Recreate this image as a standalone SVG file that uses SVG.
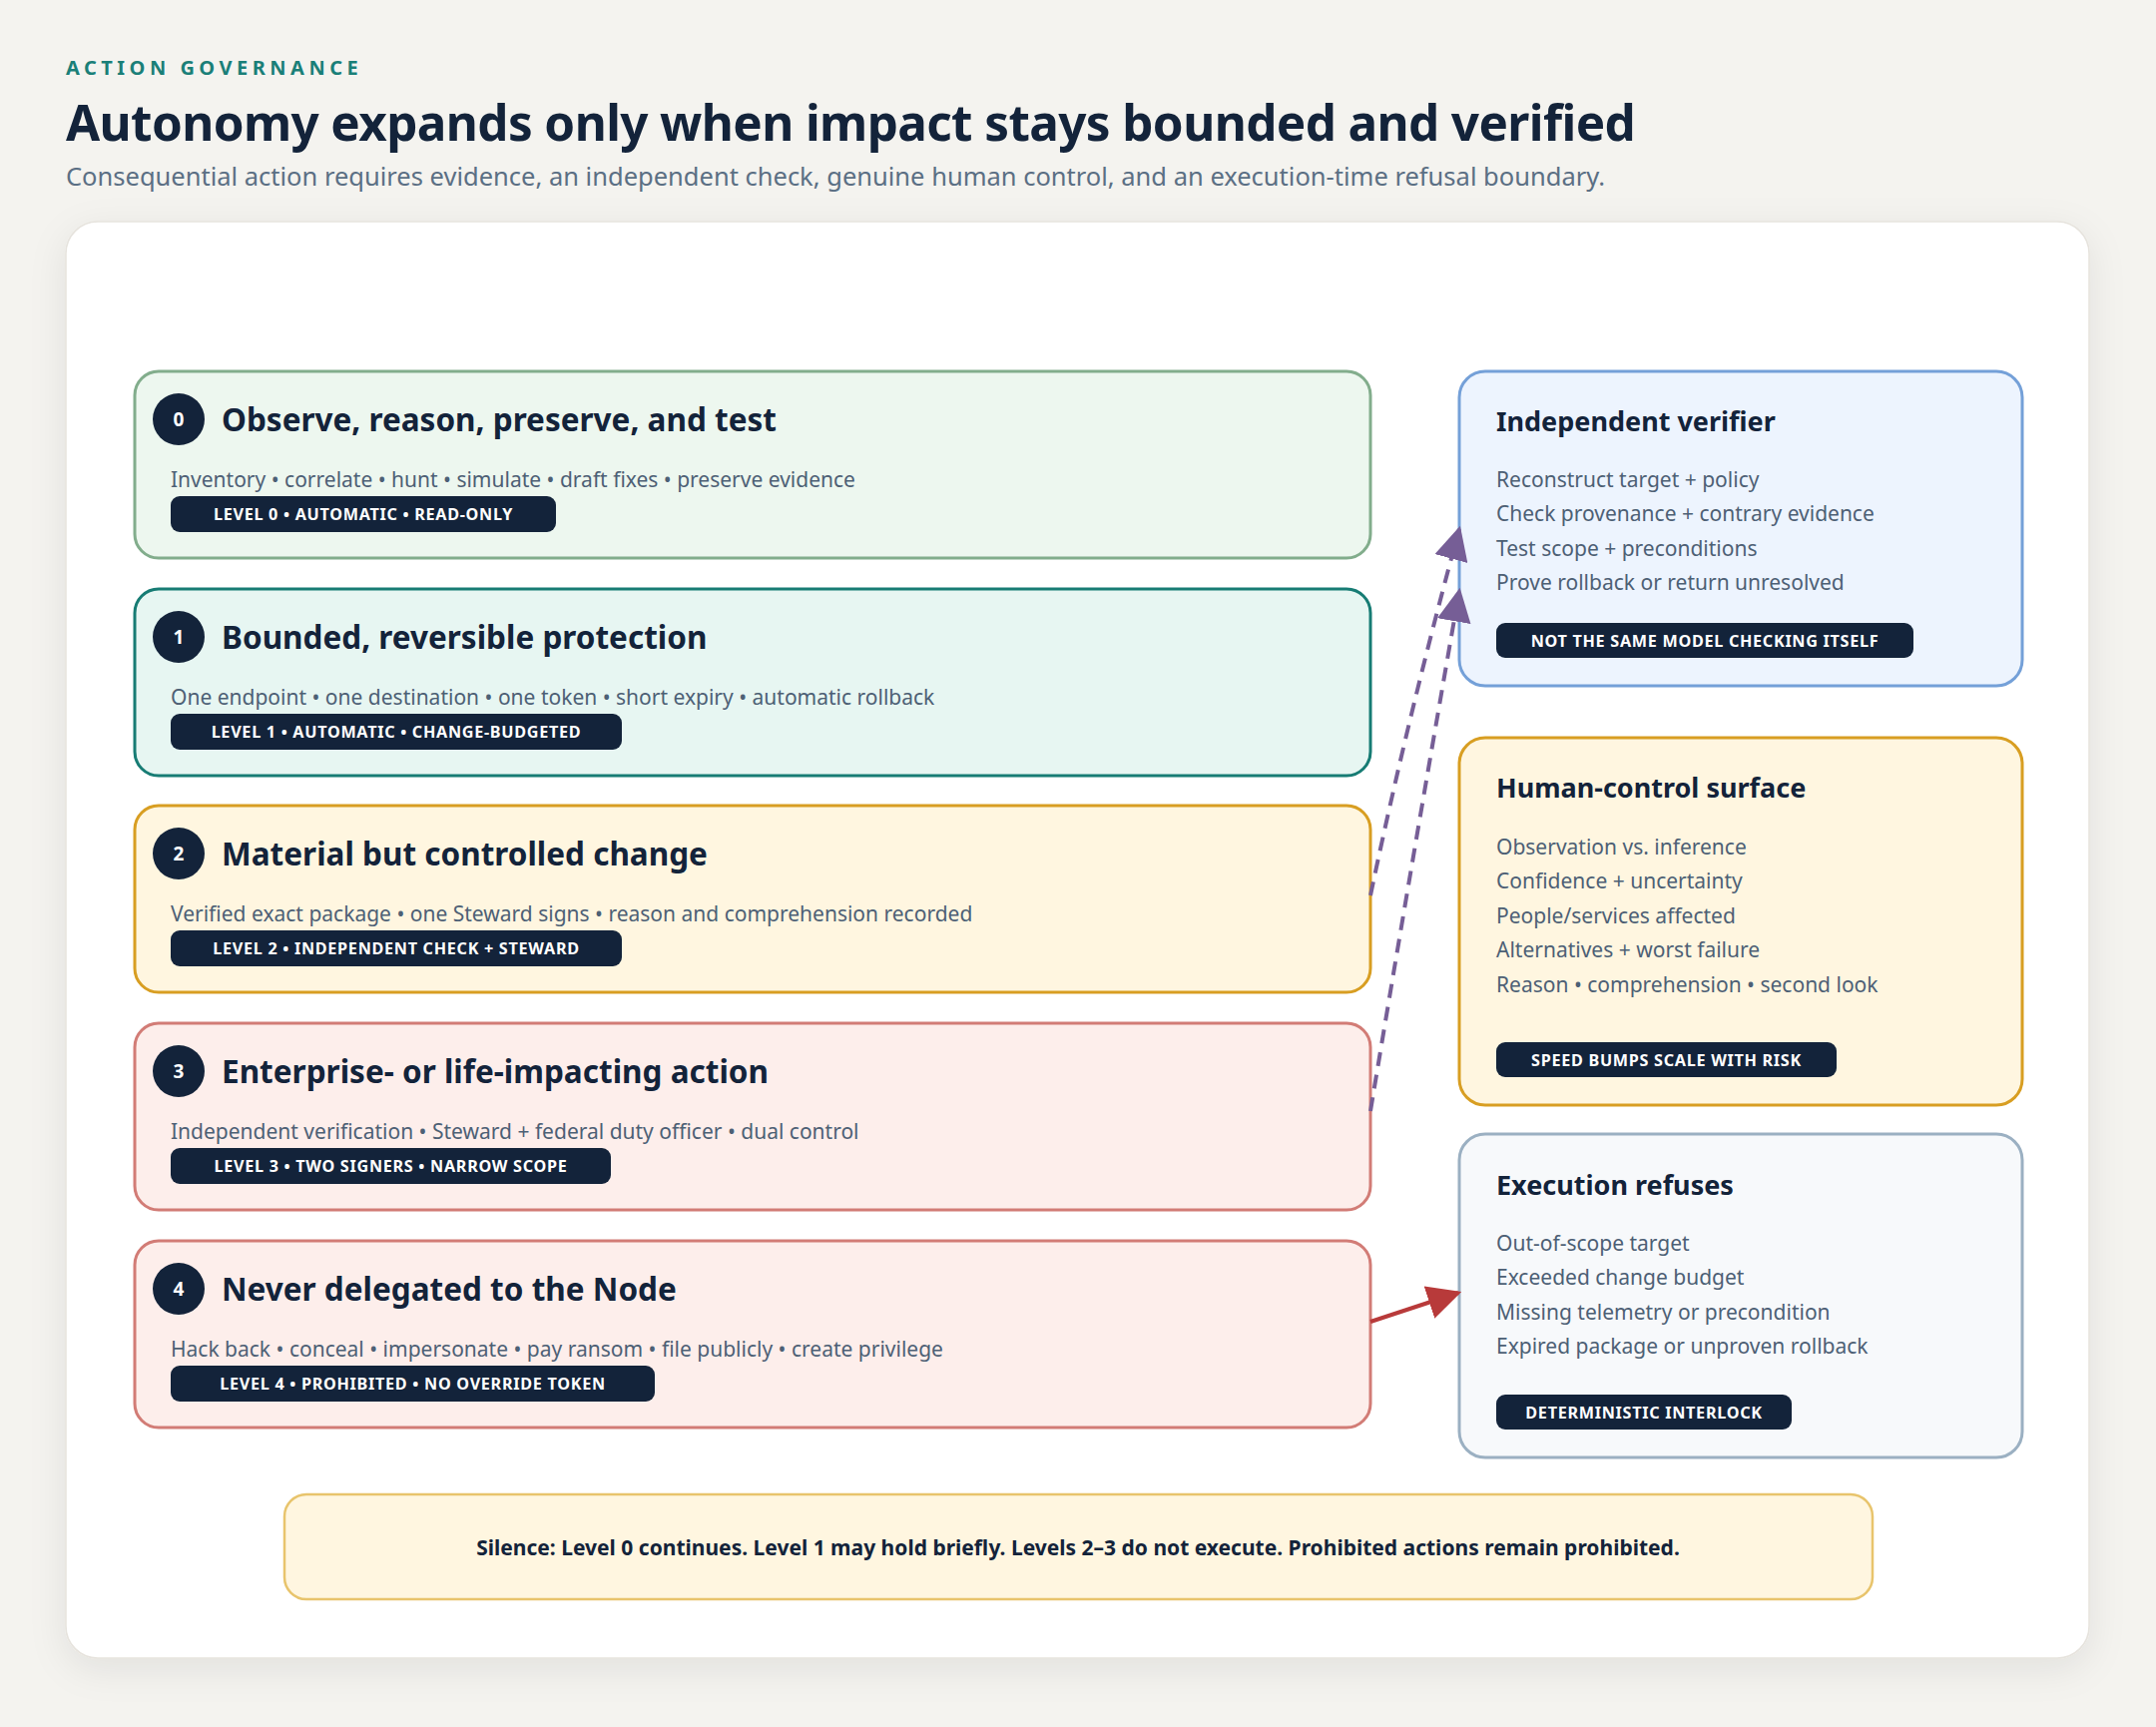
<svg xmlns="http://www.w3.org/2000/svg" width="2160" height="1730" viewBox="0 0 2160 1730">
<defs>
<filter id="shadow" x="-5%" y="-5%" width="110%" height="110%">
<feDropShadow dx="0" dy="10" stdDeviation="18" flood-color="#2a2a20" flood-opacity="0.08"/>
</filter>
<marker id="arrowPurple" viewBox="0 0 10 10" refX="9" refY="5" markerWidth="8.5" markerHeight="8.5" markerUnits="strokeWidth" orient="auto">
<path d="M0,0 L10,5 L0,10 Z" fill="#765e96"/>
</marker>
<marker id="arrowRed" viewBox="0 0 10 10" refX="9" refY="5" markerWidth="8.5" markerHeight="8.5" markerUnits="strokeWidth" orient="auto">
<path d="M0,0 L10,5 L0,10 Z" fill="#b83a3a"/>
</marker>
</defs>
<style>
text { font-family: "Noto Sans", "Open Sans", sans-serif; }
.eyebrow { font-size: 20px; font-weight: 700; fill: #1a7f78; letter-spacing: 4.5px; }
.title { font-size: 49.4px; font-weight: 700; fill: #13233a; letter-spacing: -0.6px; }
.subtitle { font-size: 25.5px; fill: #5b6f84; }
.lvl-title { font-size: 31.5px; font-weight: 700; fill: #13233a; }
.desc { font-size: 21px; fill: #4d6075; }
.num { font-size: 19px; font-weight: 700; fill: #ffffff; text-anchor: middle; }
.badge { fill: #13233a; }
.badge-text { font-size: 16.2px; font-weight: 700; fill: #ffffff; text-anchor: middle; letter-spacing: 0.7px; }
.panel-title { font-size: 27px; font-weight: 700; fill: #13233a; }
.panel-line { font-size: 21px; fill: #4d6075; }
.note { font-size: 21px; font-weight: 700; fill: #13233a; text-anchor: middle; }
.box { stroke-width: 3; }
.g0 { fill: #edf7ef; stroke: #82ad8c; }
.g1 { fill: #e7f6f2; stroke: #177c74; }
.g2 { fill: #fff6e0; stroke: #d89e22; }
.g3 { fill: #fdeeeb; stroke: #d27c76; }
.pv { fill: #edf4fe; stroke: #74a0d8; }
.ph { fill: #fff6e0; stroke: #d89e22; }
.pe { fill: #f7f9fb; stroke: #9bb0c2; }
.dash { fill: none; stroke: #765e96; stroke-width: 4; stroke-dasharray: 14 9; }
.red { fill: none; stroke: #b83a3a; stroke-width: 4; }
</style>
<rect x="0" y="0" width="2160" height="1730" fill="#f4f3ef"/>
<g id="header">
<text class="eyebrow" x="66" y="75">ACTION GOVERNANCE</text>
<text class="title" x="66" y="141">Autonomy expands only when impact stays bounded and verified</text>
<text class="subtitle" x="66" y="186">Consequential action requires evidence, an independent check, genuine human control, and an execution-time refusal boundary.</text>
</g>
<rect id="card" x="66" y="222" width="2027" height="1439" rx="32" fill="#ffffff" stroke="#e6e3dd" stroke-width="1.5" filter="url(#shadow)"/>

<g id="level0">
<rect class="box g0" x="135" y="372" width="1238" height="187" rx="24"/>
<circle cx="179" cy="420" r="26" fill="#13233a"/>
<text class="num" x="179" y="427">0</text>
<text class="lvl-title" x="222" y="432">Observe, reason, preserve, and test</text>
<text class="desc" x="171" y="487.5">Inventory • correlate • hunt • simulate • draft fixes • preserve evidence</text>
<rect class="badge" x="171" y="497" width="386" height="36" rx="9"/>
<text class="badge-text" x="364" y="521">LEVEL 0 • AUTOMATIC • READ-ONLY</text>
</g>
<g id="level1">
<rect class="box g1" x="135" y="590" width="1238" height="187" rx="24"/>
<circle cx="179" cy="638" r="26" fill="#13233a"/>
<text class="num" x="179" y="645">1</text>
<text class="lvl-title" x="222" y="650">Bounded, reversible protection</text>
<text class="desc" x="171" y="705.5">One endpoint • one destination • one token • short expiry • automatic rollback</text>
<rect class="badge" x="171" y="715" width="452" height="36" rx="9"/>
<text class="badge-text" x="397" y="739">LEVEL 1 • AUTOMATIC • CHANGE-BUDGETED</text>
</g>
<g id="level2">
<rect class="box g2" x="135" y="807" width="1238" height="187" rx="24"/>
<circle cx="179" cy="855" r="26" fill="#13233a"/>
<text class="num" x="179" y="862">2</text>
<text class="lvl-title" x="222" y="867">Material but controlled change</text>
<text class="desc" x="171" y="922.5">Verified exact package • one Steward signs • reason and comprehension recorded</text>
<rect class="badge" x="171" y="932" width="452" height="36" rx="9"/>
<text class="badge-text" x="397" y="956">LEVEL 2 • INDEPENDENT CHECK + STEWARD</text>
</g>
<g id="level3">
<rect class="box g3" x="135" y="1025" width="1238" height="187" rx="24"/>
<circle cx="179" cy="1073" r="26" fill="#13233a"/>
<text class="num" x="179" y="1080">3</text>
<text class="lvl-title" x="222" y="1085">Enterprise- or life-impacting action</text>
<text class="desc" x="171" y="1140.5">Independent verification • Steward + federal duty officer • dual control</text>
<rect class="badge" x="171" y="1150" width="441" height="36" rx="9"/>
<text class="badge-text" x="391.5" y="1174">LEVEL 3 • TWO SIGNERS • NARROW SCOPE</text>
</g>
<g id="level4">
<rect class="box g3" x="135" y="1243" width="1238" height="187" rx="24"/>
<circle cx="179" cy="1291" r="26" fill="#13233a"/>
<text class="num" x="179" y="1298">4</text>
<text class="lvl-title" x="222" y="1303">Never delegated to the Node</text>
<text class="desc" x="171" y="1358.5">Hack back • conceal • impersonate • pay ransom • file publicly • create privilege</text>
<rect class="badge" x="171" y="1368" width="485" height="36" rx="9"/>
<text class="badge-text" x="413.5" y="1392">LEVEL 4 • PROHIBITED • NO OVERRIDE TOKEN</text>
</g>

<g id="verifier">
<rect class="box pv" x="1462" y="372" width="564" height="315" rx="26"/>
<text class="panel-title" x="1499" y="432">Independent verifier</text>
<text class="panel-line" x="1499" y="487.5">Reconstruct target + policy</text>
<text class="panel-line" x="1499" y="522">Check provenance + contrary evidence</text>
<text class="panel-line" x="1499" y="556.5">Test scope + preconditions</text>
<text class="panel-line" x="1499" y="591">Prove rollback or return unresolved</text>
<rect class="badge" x="1499" y="624" width="418" height="35" rx="9"/>
<text class="badge-text" x="1708" y="648">NOT THE SAME MODEL CHECKING ITSELF</text>
</g>
<g id="human-control">
<rect class="box ph" x="1462" y="739" width="564" height="368" rx="26"/>
<text class="panel-title" x="1499" y="799">Human-control surface</text>
<text class="panel-line" x="1499" y="855.5">Observation vs. inference</text>
<text class="panel-line" x="1499" y="890">Confidence + uncertainty</text>
<text class="panel-line" x="1499" y="924.5">People/services affected</text>
<text class="panel-line" x="1499" y="959">Alternatives + worst failure</text>
<text class="panel-line" x="1499" y="993.5">Reason • comprehension • second look</text>
<rect class="badge" x="1499" y="1044" width="341" height="35" rx="9"/>
<text class="badge-text" x="1669.5" y="1068">SPEED BUMPS SCALE WITH RISK</text>
</g>
<g id="execution">
<rect class="box pe" x="1462" y="1136" width="564" height="324" rx="26"/>
<text class="panel-title" x="1499" y="1197">Execution refuses</text>
<text class="panel-line" x="1499" y="1252.5">Out-of-scope target</text>
<text class="panel-line" x="1499" y="1287">Exceeded change budget</text>
<text class="panel-line" x="1499" y="1321.5">Missing telemetry or precondition</text>
<text class="panel-line" x="1499" y="1356">Expired package or unproven rollback</text>
<rect class="badge" x="1499" y="1397" width="296" height="35" rx="9"/>
<text class="badge-text" x="1647" y="1421">DETERMINISTIC INTERLOCK</text>
</g>

<g id="connectors">
<path class="dash" d="M1373,897 Q1410,720 1462,530" marker-end="url(#arrowPurple)"/>
<path class="dash" d="M1373,1113 Q1415,860 1462,592" marker-end="url(#arrowPurple)"/>
<path class="red" d="M1373,1324 L1461,1295" marker-end="url(#arrowRed)"/>
</g>

<g id="note">
<rect x="285" y="1497" width="1591" height="105" rx="22" fill="#fff6e0" stroke="#e8c46c" stroke-width="2.5"/>
<text class="note" x="1080" y="1558">Silence: Level 0 continues. Level 1 may hold briefly. Levels 2–3 do not execute. Prohibited actions remain prohibited.</text>
</g>
</svg>
